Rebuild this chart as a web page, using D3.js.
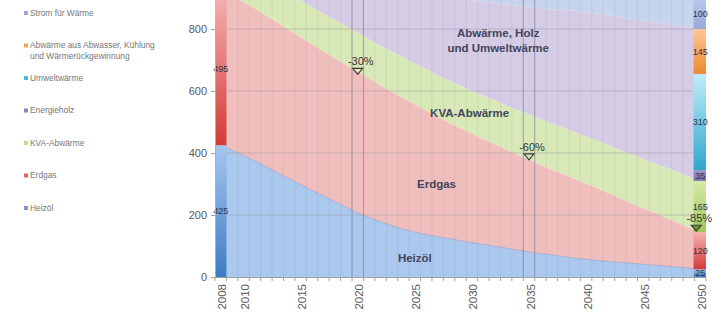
<!DOCTYPE html>
<html>
<head>
<meta charset="utf-8">
<script src="https://cdn.jsdelivr.net/npm/d3@7"></script>
<style>
body { margin: 0; background: #fff; }
svg { display: block; font-family: "Liberation Sans", Arial, sans-serif; }
</style>
</head>
<body>
<div id="chart"></div>
<script>
// categories
var years = d3.range(2008, 2051);

// area series, bottom to top (GWh per year)
var heizoel = [425,409,392,374,355,336,317,298,279,261,243,225,207,192,178,165,154,145,137,130,124,117,111,105,99,93,87,81,76,71,66,61,57,53,50,47,44,41,38,35,32,29,25];
var erdgas = [495,496,496,492,488,484,480,476,472,467,463,459,455,448,440,432,423,412,400,387,374,363,351,340,329,318,308,298,287,276,266,256,245,233,220,207,194,181,169,156,144,131,120];
var kva = [110,111,113,114,115,117,118,119,120,122,123,124,126,127,128,130,131,132,134,135,136,138,139,140,142,143,144,146,147,148,150,151,152,154,155,156,158,159,160,162,163,164,165];
var holzUmwelt = [90,98,106,116,126,137,148,160,170,180,190,200,210,219,228,237,246,255,263,270,278,285,292,303,314,325,336,347,358,369,380,391,401,410,419,428,437,446,455,464,473,482,490];
var strom = [60,61,62,63,64,65,66,67,68,69,70,71,72,73,74,75,76,77,78,79,80,81,82,83,84,85,86,87,88,89,90,91,92,93,94,95,96,97,97,98,98,99,100];

// stacked columns for 2008 and 2050
var barNames = ["Heizöl","Erdgas","KVA-Abwärme","Energieholz","Umweltwärme","Abwärme","Strom"];
var bar2008 = [425,495,110,60,20,10,60];
var bar2050 = [25,120,165,35,310,145,100];

// legend, top to bottom
var legendLabels = [["Strom für Wärme"],["Abwärme aus Abwasser, Kühlung","und Wärmerückgewinnung"],["Umweltwärme"],["Energieholz"],["KVA-Abwärme"],["Erdgas"],["Heizöl"]];

var yTicks = [0,200,400,600,800];
var xTickLabels = [2008,2010,2015,2020,2025,2030,2035,2040,2045,2050];

// reduction targets of fossil heat vs 2008
var targetYears = [2020,2035,2050];
var targetLabels = ["-30%","-60%","-85%"];
var targetCuts = [0.30,0.60,0.85];

var width = 712, height = 316;

var svg = d3.select("#chart").append("svg")
    .attr("width", width)
    .attr("height", height);

var defs = svg.append("defs");

var xScale = d3.scaleBand().domain(years).range([215, 706]).padding(0);
var yScale = d3.scaleLinear().domain([0, 800]).range([277, 29]);
var bw = xScale.bandwidth();
function xc(yr) { return xScale(yr) + bw / 2; }

defs.append("clipPath").attr("id", "plot")
    .append("rect").attr("x", 215).attr("y", 0).attr("width", 491).attr("height", 277);

// area layers
var rows = years.map(function(yr, i) {
    return { year: yr, h: heizoel[i], e: erdgas[i], k: kva[i], p: holzUmwelt[i], s: strom[i] };
});
var areaKeys = ["h","e","k","p","s"];
var areaColors = ["#abc8ef","#f1bebe","#d9e8b7","#d5cce6","#c6d4ed"];
var layers = d3.stack().keys(areaKeys)(rows);

var area = d3.area()
    .x(function(d) { return xc(d.data.year); })
    .y0(function(d) { return yScale(d[0]); })
    .y1(function(d) { return yScale(d[1]); });

var plot = svg.append("g").attr("clip-path", "url(#plot)");

plot.selectAll(".layer")
    .data(layers)
    .enter().append("path")
    .attr("class", "layer")
    .attr("fill", function(d, i) { return areaColors[i]; })
    .attr("d", area);

// thin boundary between oil and gas like the original
plot.append("path")
    .datum(layers[0])
    .attr("fill", "none")
    .attr("stroke", "#9aa6c8")
    .attr("stroke-width", 0.8)
    .attr("d", d3.line().x(function(d) { return xc(d.data.year); }).y(function(d) { return yScale(d[1]); }));

// faint vertical stripes at every category
plot.selectAll(".vgrid")
    .data(years)
    .enter().append("line")
    .attr("x1", function(d) { return xScale(d); })
    .attr("x2", function(d) { return xScale(d); })
    .attr("y1", 0).attr("y2", 277)
    .attr("stroke", "#7a7a96")
    .attr("stroke-opacity", 0.13)
    .attr("stroke-width", 1);

// horizontal gridlines
plot.selectAll(".hgrid")
    .data(yTicks.slice(1))
    .enter().append("line")
    .attr("x1", 215).attr("x2", 706)
    .attr("y1", function(d) { return yScale(d); })
    .attr("y2", function(d) { return yScale(d); })
    .attr("stroke", "#8c8c8c")
    .attr("stroke-opacity", 0.4);

// frames on 2020 and 2035
[2020, 2035].forEach(function(yr) {
    [xScale(yr), xScale(yr) + bw].forEach(function(xx) {
        plot.append("line")
            .attr("x1", xx).attr("x2", xx)
            .attr("y1", 0).attr("y2", 277)
            .attr("stroke", "#7c7c90")
            .attr("stroke-opacity", 0.6);
    });
});

// column gradients
var barTop = ["#a6c6f0","#f6b3b3","#d6eaa8","#a096cc","#bfeefb","#fcc79a","#bac8ec"];
var barBottom = ["#3d7cc4","#d43a36","#9ec75a","#7c70b0","#2fa6cb","#ee8a2e","#98a8da"];
barNames.forEach(function(n, i) {
    var g = defs.append("linearGradient")
        .attr("id", "g" + i)
        .attr("x1", 0).attr("y1", 0).attr("x2", 0).attr("y2", 1);
    g.append("stop").attr("offset", "0%").attr("stop-color", barTop[i]);
    g.append("stop").attr("offset", "100%").attr("stop-color", barBottom[i]);
});

function drawBar(yr, vals) {
    var acc = 0;
    vals.forEach(function(v, i) {
        var y0 = yScale(acc), y1 = yScale(acc + v);
        plot.append("rect")
            .attr("x", xScale(yr) - (yr === 2050 ? 1 : 0))
            .attr("y", y1)
            .attr("width", bw + (yr === 2050 ? 1 : 0))
            .attr("height", y0 - y1)
            .attr("fill", "url(#g" + i + ")");
        var cy = yScale(acc + v / 2);
        if (cy > 4) {
            svg.append("text")
                .attr("x", xc(yr))
                .attr("y", cy)
                .attr("dy", "0.35em")
                .attr("text-anchor", "middle")
                .attr("font-size", 9)
                .attr("fill", "#2c3450")
                .text(v);
        }
        acc += v;
    });
}
drawBar(2008, bar2008);
drawBar(2050, bar2050);

// y axis
var yAxis = d3.axisLeft(yScale).tickValues(yTicks).tickSize(4).tickPadding(4);
var yg = svg.append("g")
    .attr("transform", "translate(215,0)")
    .call(yAxis);
yg.select(".domain").attr("stroke", "#b0b0b0");
yg.selectAll(".tick line").attr("stroke", "#a0a0a0");
yg.selectAll("text").attr("font-size", 11).attr("fill", "#595959").attr("font-family", "Liberation Sans, Arial, sans-serif");

// x axis
svg.append("line")
    .attr("x1", 215).attr("x2", 706)
    .attr("y1", 277.5).attr("y2", 277.5)
    .attr("stroke", "#a0a0a0");
svg.selectAll(".xtick")
    .data(years.concat([2051]))
    .enter().append("line")
    .attr("x1", function(d) { return d === 2051 ? 706 : xScale(d); })
    .attr("x2", function(d) { return d === 2051 ? 706 : xScale(d); })
    .attr("y1", 277).attr("y2", 281)
    .attr("stroke", "#a0a0a0");
svg.selectAll(".xlabel")
    .data(xTickLabels)
    .enter().append("text")
    .attr("transform", function(d) { return "translate(" + (xc(d) + 1.5) + ",284) rotate(-90)"; })
    .attr("text-anchor", "end")
    .attr("dy", "0.35em")
    .attr("font-size", 11.5)
    .attr("fill", "#595959")
    .text(function(d) { return d; });

// area labels
var notes = [
    { t: "Abwärme, Holz", yr: 2032.3, v: 787 },
    { t: "und Umweltwärme", yr: 2032.3, v: 739 },
    { t: "KVA-Abwärme", yr: 2029.8, v: 529 },
    { t: "Erdgas", yr: 2026.9, v: 300 },
    { t: "Heizöl", yr: 2025, v: 61 }
];
svg.selectAll(".note")
    .data(notes)
    .enter().append("text")
    .attr("x", function(d) { return xc(2008) + (d.yr - 2008) * bw; })
    .attr("y", function(d) { return yScale(d.v); })
    .attr("dy", "0.35em")
    .attr("text-anchor", "middle")
    .attr("font-size", 11.5)
    .attr("font-weight", "bold")
    .attr("fill", "#44445a")
    .text(function(d) { return d.t; });

// reduction markers
var fossil2008 = heizoel[0] + erdgas[0];
targetYears.forEach(function(yr, i) {
    var tx = xc(yr) - (i === 2 ? 4 : 0);
    var ty = yScale(fossil2008 * (1 - targetCuts[i])) - 3;
    svg.append("path")
        .attr("d", "M" + (tx - 5) + "," + (ty - 6) + "L" + (tx + 5) + "," + (ty - 6) + "L" + tx + "," + ty + "Z")
        .attr("fill", i === 2 ? "#6c9a34" : "none")
        .attr("stroke", "#3a3a3a")
        .attr("stroke-width", 1.1);
    svg.append("text")
        .attr("x", tx + 3)
        .attr("y", ty - 9)
        .attr("text-anchor", "middle")
        .attr("font-size", 11)
        .attr("fill", "#333")
        .text(targetLabels[i]);
});

// legend
var legendColors = ["#9aa6dc","#f4a55a","#4cb8e0","#8a86b8","#c6dc8e","#e06666","#7a98d8"];
var leg = svg.selectAll(".leg")
    .data(legendLabels)
    .enter().append("g")
    .attr("transform", function(d, i) { return "translate(24," + (13 + i * 32.5) + ")"; });
leg.append("rect")
    .attr("x", 0).attr("y", -2)
    .attr("width", 4).attr("height", 4)
    .attr("fill", function(d, i) { return legendColors[i]; });
leg.selectAll("text")
    .data(function(d) { return d; })
    .enter().append("text")
    .attr("x", 6)
    .attr("y", function(d, j) { return j * 11; })
    .attr("dy", "0.35em")
    .attr("font-size", 8.4)
    .attr("fill", "#777")
    .text(function(d) { return d; });
</script>
</body>
</html>
